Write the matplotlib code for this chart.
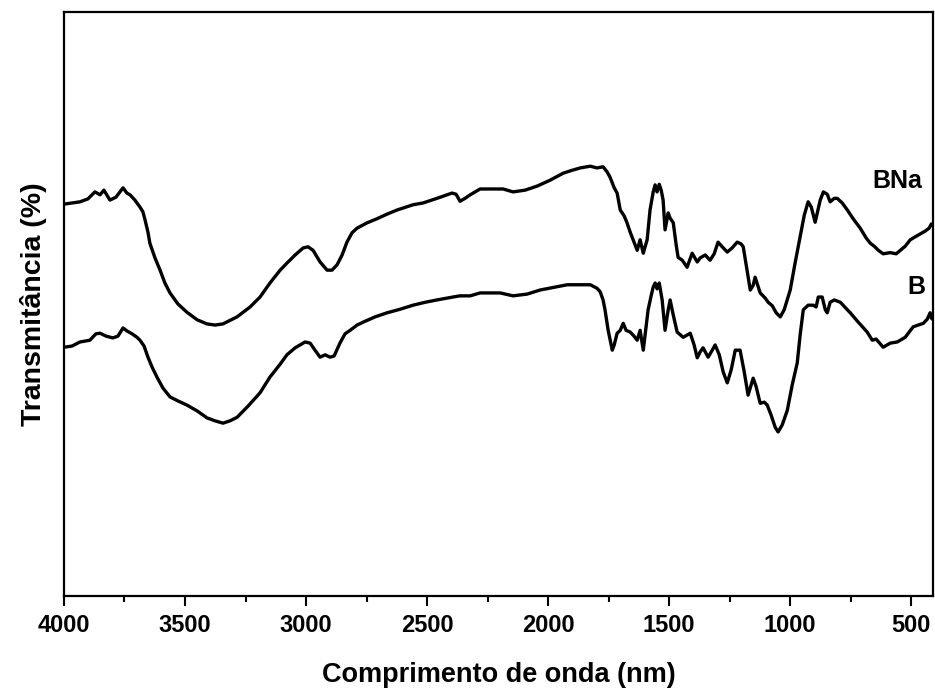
import matplotlib
matplotlib.use("Agg")
import matplotlib.pyplot as plt
from matplotlib.ticker import MultipleLocator

plt.rcParams['font.family'] = ['Liberation Sans', 'DejaVu Sans']
plt.rcParams['font.weight'] = 'bold'

# BNa spectrum (upper curve), wavenumber vs transmittance (arb. units)
bna_wn = [4000, 3967, 3934, 3901, 3872, 3851, 3835, 3810, 3785, 3756, 3740, 3727, 3707, 3686,
          3674, 3665, 3653, 3645, 3624, 3603, 3583, 3562, 3529, 3492, 3450, 3409, 3376, 3343,
          3285, 3231, 3190, 3149, 3107, 3079, 3045, 3012, 2992, 2971, 2942, 2913, 2893, 2872,
          2851, 2831, 2810, 2789, 2748, 2707, 2665, 2624, 2558, 2517, 2459, 2397, 2380, 2364,
          2343, 2322, 2281, 2240, 2186, 2145, 2095, 2045, 1992, 1938, 1901, 1868, 1826, 1798,
          1773, 1756, 1744, 1727, 1715, 1702, 1686, 1674, 1661, 1649, 1632, 1620, 1607, 1591,
          1579, 1566, 1558, 1550, 1541, 1533, 1525, 1517, 1504, 1496, 1483, 1471, 1463, 1446,
          1426, 1405, 1384, 1372, 1351, 1331, 1314, 1298, 1281, 1260, 1240, 1219, 1203, 1194,
          1182, 1165, 1153, 1145, 1132, 1124, 1103, 1091, 1074, 1058, 1041, 1025, 1000, 979,
          959, 942, 926, 913, 897, 876, 863, 847, 835, 818, 806, 785, 764, 740, 711, 686, 669,
          653, 636, 616, 587, 562, 545, 525, 504, 484, 463, 442, 426, 417, 409]
bna_t = [67.1, 67.3, 67.5, 68.0, 69.2, 68.7, 69.5, 67.8, 68.3, 69.9, 69.0, 68.7, 67.8, 66.6,
         65.8, 64.4, 62.3, 60.4, 57.9, 55.8, 53.6, 51.9, 50.0, 48.6, 47.3, 46.6, 46.4, 46.6,
         47.8, 49.5, 51.2, 53.6, 55.8, 57.0, 58.4, 59.6, 59.8, 59.2, 57.2, 55.8, 55.8, 56.7,
         58.4, 60.6, 62.2, 63.0, 63.9, 64.6, 65.4, 66.1, 67.0, 67.3, 68.1, 69.0, 68.8, 67.6,
         68.1, 68.7, 69.7, 69.7, 69.7, 69.2, 69.5, 70.2, 71.2, 72.4, 72.9, 73.3, 73.6, 73.3,
         73.5, 72.6, 71.7, 69.9, 69.0, 66.1, 65.1, 63.9, 62.3, 61.0, 59.2, 61.0, 58.7, 61.0,
         66.1, 69.2, 70.4, 69.2, 70.5, 69.5, 67.8, 62.7, 65.6, 64.7, 63.9, 60.1, 58.0, 57.5,
         56.3, 58.7, 57.2, 57.9, 58.4, 57.5, 58.6, 60.6, 59.8, 58.9, 59.6, 60.6, 60.3, 59.8,
         56.7, 52.4, 53.2, 54.6, 52.9, 51.9, 51.0, 50.3, 49.7, 48.5, 47.8, 49.0, 52.4, 57.2,
         61.5, 65.2, 67.5, 66.6, 64.0, 67.8, 69.2, 68.8, 67.5, 68.1, 68.1, 67.3, 66.1, 64.6,
         63.0, 61.3, 60.4, 59.9, 59.2, 58.6, 58.8, 58.6, 59.2, 59.9, 61.0, 61.5, 62.0, 62.5,
         63.0, 63.7, 63.5]

# B spectrum (lower curve)
b_wn = [4000, 3967, 3934, 3893, 3868, 3851, 3826, 3798, 3777, 3756, 3740, 3719, 3698, 3686,
        3669, 3653, 3636, 3616, 3591, 3562, 3529, 3492, 3450, 3409, 3376, 3343, 3314, 3285,
        3240, 3190, 3149, 3107, 3079, 3045, 3004, 2983, 2963, 2942, 2921, 2901, 2884, 2860,
        2839, 2818, 2789, 2764, 2715, 2665, 2612, 2558, 2508, 2459, 2393, 2364, 2322, 2281,
        2240, 2198, 2145, 2087, 2033, 1971, 1921, 1868, 1826, 1798, 1785, 1773, 1765, 1752,
        1735, 1727, 1715, 1702, 1690, 1678, 1661, 1645, 1632, 1620, 1607, 1587, 1574, 1566,
        1558, 1550, 1541, 1529, 1517, 1504, 1496, 1483, 1467, 1442, 1413, 1397, 1384, 1372,
        1360, 1339, 1322, 1310, 1293, 1277, 1260, 1244, 1227, 1207, 1190, 1174, 1153, 1141,
        1124, 1107, 1095, 1079, 1062, 1050, 1033, 1012, 992, 971, 959, 946, 926, 905, 893,
        884, 868, 855, 847, 835, 818, 793, 752, 719, 682, 661, 645, 616, 587, 558, 525, 492,
        471, 450, 434, 422, 417, 409]
b_t = [42.6, 42.8, 43.5, 43.8, 44.9, 45.0, 44.5, 44.2, 44.5, 45.9, 45.4, 44.9, 44.3, 43.8,
       42.8, 40.9, 39.2, 37.5, 35.6, 34.1, 33.4, 32.7, 31.7, 30.5, 30.0, 29.6, 30.0, 30.6,
       32.5, 34.8, 37.5, 39.7, 41.3, 42.5, 43.5, 43.3, 42.1, 40.9, 41.3, 40.9, 41.1, 43.3,
       44.9, 45.5, 46.4, 46.9, 47.8, 48.5, 49.1, 49.8, 50.3, 50.7, 51.2, 51.4, 51.4, 51.9,
       51.9, 51.9, 51.4, 51.7, 52.4, 52.9, 53.3, 53.3, 53.3, 52.7, 52.1, 50.7, 49.0, 45.5,
       42.1, 43.0, 45.0, 45.5, 46.7, 45.5, 45.2, 44.5, 43.8, 45.5, 42.1, 49.0, 51.5, 52.9,
       53.6, 52.6, 53.6, 50.7, 45.5, 49.0, 50.7, 48.1, 45.2, 44.3, 45.0, 43.0, 40.8, 41.8,
       42.5, 40.9, 42.1, 43.0, 41.3, 38.4, 36.5, 38.7, 42.1, 42.1, 38.4, 34.4, 37.3, 35.9,
       33.0, 33.2, 32.7, 31.0, 28.9, 28.1, 29.3, 31.8, 36.1, 39.9, 44.7, 49.0, 49.8, 49.8, 49.5,
       51.2, 51.2, 49.0, 48.5, 50.3, 50.7, 50.3, 48.5, 46.9, 45.2, 43.8, 44.0, 42.6, 43.3, 43.5,
       44.3, 46.1, 46.4, 46.7, 47.4, 48.5, 47.6, 47.3]

fig = plt.figure(figsize=(9.35, 6.95), dpi=100)
ax = fig.add_axes([0.0684, 0.1424, 0.9295, 0.8403])

ax.plot(bna_wn, bna_t, color='black', lw=2.4)
ax.plot(b_wn, b_t, color='black', lw=2.4)

ax.text(455, 71, 'BNa', ha='right', va='center', fontsize=18, fontweight='bold')
ax.text(442, 53, 'B', ha='right', va='center', fontsize=18, fontweight='bold')

ax.set_xlim(4000, 410)
ax.set_ylim(0, 100)
ax.xaxis.set_major_locator(MultipleLocator(500))
ax.xaxis.set_minor_locator(MultipleLocator(250))
ax.set_yticks([])
ax.tick_params(axis='x', which='major', direction='out', length=7, width=1.5,
               labelsize=17, pad=6)
ax.tick_params(axis='x', which='minor', direction='out', length=4, width=1.5)
for lab in ax.get_xticklabels():
    lab.set_fontweight('bold')
for s in ax.spines.values():
    s.set_linewidth(1.6)

ax.set_xlabel('Comprimento de onda (nm)', fontsize=19.5, fontweight='bold', labelpad=18)
ax.set_ylabel('Transmitância (%)', fontsize=20.5, fontweight='bold', labelpad=12)

fig.savefig('out.png', dpi=100)
